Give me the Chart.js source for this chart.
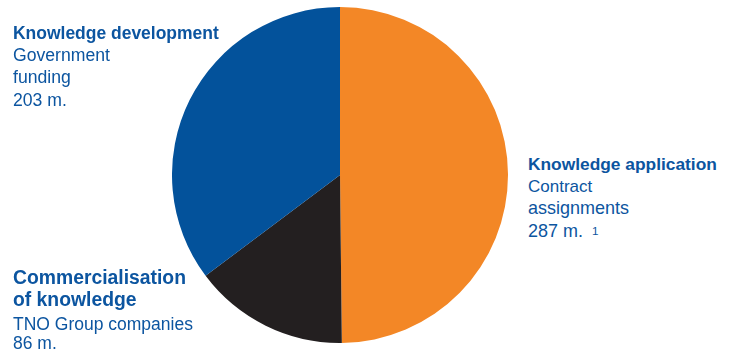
<!DOCTYPE html>
<html>
<head>
<meta charset="utf-8">
<script src="https://cdn.jsdelivr.net/npm/chart.js@4"></script>
<style>
  html, body { margin: 0; padding: 0; background: #fff; }
  #wrap { position: relative; width: 732px; height: 356px; overflow: hidden; }
  #pie { position: absolute; left: 172px; top: 7px; width: 336px; height: 336px; }
  .lbl { position: absolute; white-space: nowrap; color: #0c55a0; font-family: "Liberation Sans", Arial, sans-serif; }
  .lbl sup { font-size: 0.65em; position: relative; top: -0.15em; vertical-align: baseline; margin-left: 9px; }
</style>
</head>
<body>
<div id="wrap">
  <div id="pie"><canvas id="c" width="336" height="336"></canvas></div>
</div>
<script>
// ---- data ----
const categories = ["Knowledge application", "Commercialisation of knowledge", "Knowledge development"];
const values = [287, 86, 203];
const sliceColors = ["#f38726", "#231f20", "#03529b"];

// label text lines: [text, bold, targetWidth (0 = use block's regular size), baselineY]
const labelRight = [
  ["Knowledge application", true, 189, 170],
  ["Contract", false, 0, 193],
  ["assignments", false, 101, 215],
  ["287 m.", false, 0, 238]
];
const labelTopLeft = [
  ["Knowledge development", true, 206, 39],
  ["Government", false, 97, 62],
  ["funding", false, 0, 84],
  ["203 m.", false, 0, 107]
];
const labelBottomLeft = [
  ["Commercialisation", true, 173, 284],
  ["of knowledge", true, 0, 306],
  ["TNO Group companies", false, 180, 331],
  ["86 m.", false, 0, 350]
];
const footnote = "1";

// ---- chart ----
new Chart(document.getElementById('c'), {
  type: 'pie',
  data: {
    labels: categories,
    datasets: [{ data: values, backgroundColor: sliceColors, borderWidth: 0 }]
  },
  options: {
    responsive: false,
    animation: false,
    layout: { padding: 0 },
    plugins: { legend: { display: false }, tooltip: { enabled: false } }
  }
});

// ---- labels as HTML text ----
const wrap = document.getElementById('wrap');
const mctx = document.createElement('canvas').getContext('2d');
const fam = '"Liberation Sans", Arial, sans-serif';
function addLines(lines, x, sup) {
  const sizes = { bold: 17, normal: 17 };
  lines.forEach((ln, i) => {
    const [text, bold, tw, by] = ln;
    const weight = bold ? 'bold' : 'normal';
    let fs = sizes[weight];
    if (tw > 0) {
      mctx.font = weight + ' 100px ' + fam;
      fs = 100 * tw / mctx.measureText(text).width;
      sizes[weight] = fs;
    }
    mctx.font = weight + ' ' + fs + 'px ' + fam;
    const mm = mctx.measureText(text);
    const A = mm.fontBoundingBoxAscent, D = mm.fontBoundingBoxDescent;
    const L = fs * 1.2;
    const top = by - (L - (A + D)) / 2 - A;
    const d = document.createElement('div');
    d.className = 'lbl';
    d.style.left = x + 'px';
    d.style.top = top + 'px';
    d.style.fontSize = fs + 'px';
    d.style.lineHeight = L + 'px';
    d.style.fontWeight = weight;
    d.textContent = text;
    if (sup && i === lines.length - 1) {
      const s = document.createElement('sup');
      s.textContent = sup;
      d.appendChild(s);
    }
    wrap.appendChild(d);
  });
}
addLines(labelTopLeft, 13);
addLines(labelRight, 528, footnote);
addLines(labelBottomLeft, 13);
</script>
</body>
</html>
